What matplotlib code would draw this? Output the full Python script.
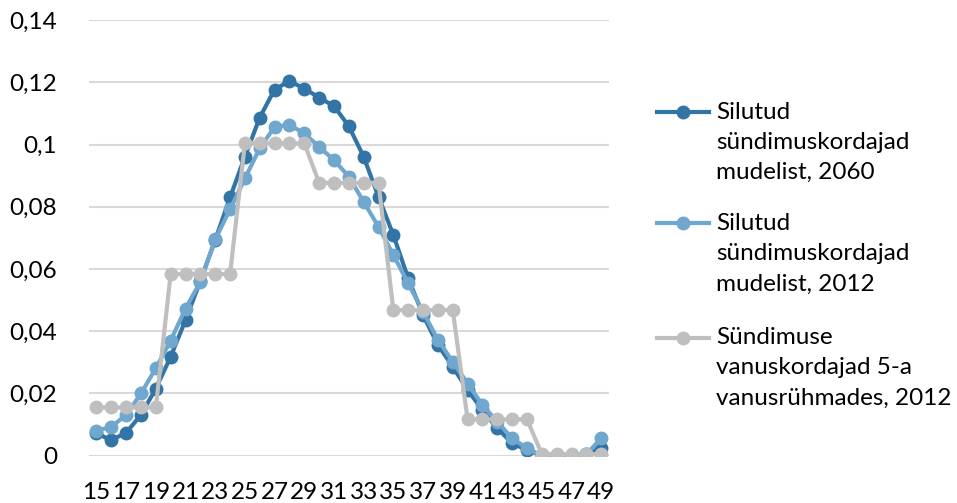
import matplotlib.pyplot as plt
from matplotlib.lines import Line2D
from matplotlib.ticker import FuncFormatter

plt.rcParams["font.family"] = ["Lato", "DejaVu Sans"]

# Ages 15..49
ages = list(range(15, 50))

# Silutud sündimuskordajad mudelist, 2060
model_2060 = [0.0072, 0.0050, 0.0074, 0.0131, 0.0216, 0.0318, 0.0436, 0.0562, 0.0693, 0.0830,
              0.0961, 0.1087, 0.1177, 0.1204, 0.1180, 0.1151, 0.1124, 0.1059, 0.0961, 0.0832,
              0.0709, 0.0570, 0.0452, 0.0356, 0.0286, 0.0211, 0.0147, 0.0088, 0.0040, 0.0018,
              0.0002, 0.0000, 0.0000, 0.0005, 0.0024]

# Silutud sündimuskordajad mudelist, 2012
model_2012 = [0.0080, 0.0093, 0.0131, 0.0200, 0.0281, 0.0370, 0.0473, 0.0559, 0.0695, 0.0792,
              0.0891, 0.0988, 0.1057, 0.1063, 0.1036, 0.0993, 0.0950, 0.0897, 0.0816, 0.0736,
              0.0645, 0.0554, 0.0463, 0.0372, 0.0302, 0.0232, 0.0163, 0.0109, 0.0056, 0.0024,
              0.0000, 0.0000, 0.0000, 0.0005, 0.0056]

# Sündimuse vanuskordajad 5-a vanusrühmades, 2012
group_rates = [0.0155, 0.0584, 0.1004, 0.0877, 0.0468, 0.0117, 0.0005]
group_2012 = [r for r in group_rates for _ in range(5)]

labels = ["Silutud\nsündimuskordajad\nmudelist, 2060",
          "Silutud\nsündimuskordajad\nmudelist, 2012",
          "Sündimuse\nvanuskordajad 5-a\nvanusrühmades, 2012"]
colors = ["#3274A6", "#70A7CF", "#BFBFBF"]

fig = plt.figure(figsize=(9.57, 5.03), dpi=100)
ax = fig.add_axes([0.093, 0.094, 0.543, 0.866])

series = [model_2060, model_2012, group_2012]
# later series drawn on top, like Excel
for i, (vals, col) in enumerate(zip(series, colors)):
    ax.plot(ages, vals, '-o', color=col, linewidth=3, markersize=9, zorder=2 + i)

ax.set_xlim(14.5, 49.5)
ax.set_ylim(0, 0.14)
ax.set_yticks([0, 0.02, 0.04, 0.06, 0.08, 0.10, 0.12, 0.14])
ax.yaxis.set_major_formatter(FuncFormatter(lambda v, p: ("%g" % round(v, 2)).replace(".", ",")))
ax.set_xticks(ages[::2])
ax.grid(axis='y', color='#D9D9D9', linewidth=1.5, zorder=0)
ax.set_axisbelow(True)
for s in ax.spines.values():
    s.set_visible(False)
ax.tick_params(axis='both', length=0, labelsize=17.5, colors='black')
ax.tick_params(axis='y', pad=23)
ax.tick_params(axis='x', pad=19)

# Legend built by hand so the marker sits by the first line of each label
legend_y = [0.777, 0.556, 0.329]
for lab, col, yy in zip(labels, colors, legend_y):
    fig.add_artist(Line2D([0.687, 0.741], [yy, yy], transform=fig.transFigure,
                          color=col, linewidth=3))
    fig.add_artist(Line2D([0.714], [yy], transform=fig.transFigure,
                          color=col, marker='o', markersize=9, linestyle='none'))
    fig.text(0.748, yy + 0.021, lab, fontsize=17.5, va='top', ha='left',
             linespacing=1.55)

fig.savefig("out.png", dpi=100)
